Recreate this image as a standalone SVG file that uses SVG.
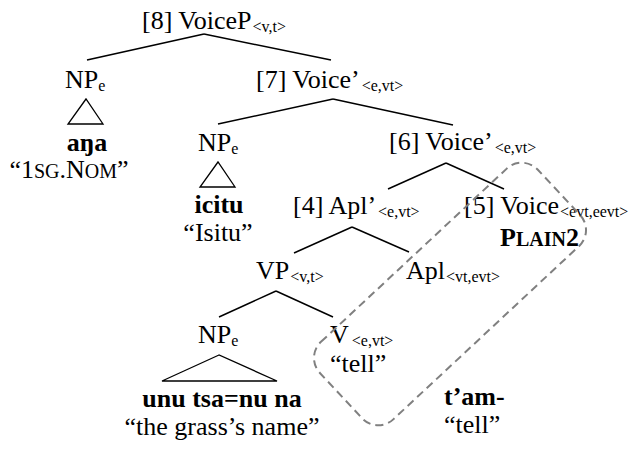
<svg xmlns="http://www.w3.org/2000/svg" width="636" height="450" viewBox="0 0 636 450">
<style>
text{font-family:"Liberation Serif","Times New Roman",serif;font-size:26px;fill:#000}
.b{font-weight:bold}
.s{font-size:16px}
.sc{font-size:20px}
.e{stroke:#000;stroke-width:1.5;fill:none}
.tri{stroke:#000;stroke-width:1.3;fill:none}
</style>
<rect width="636" height="450" fill="#fff"/>
<g id="connectors">
<line class="e" x1="204" y1="34" x2="87" y2="60"/>
<line class="e" x1="204" y1="34" x2="331" y2="60"/>
<line class="e" x1="333" y1="99" x2="218" y2="124"/>
<line class="e" x1="333" y1="99" x2="453" y2="125"/>
<line class="e" x1="446" y1="163" x2="388" y2="189"/>
<line class="e" x1="446" y1="163" x2="504" y2="189"/>
<line class="e" x1="352" y1="227" x2="294" y2="253"/>
<line class="e" x1="352" y1="227" x2="409" y2="252"/>
<line class="e" x1="276" y1="291" x2="219" y2="317"/>
<line class="e" x1="276" y1="291" x2="333" y2="317"/>
</g>
<g id="n8"><text x="142" y="29">[8] VoiceP<tspan class="s" dx="1" dy="3">&lt;v,t&gt;</tspan></text></g>
<g id="np1">
<text x="65" y="88">NP<tspan class="s" dy="3">e</tspan></text>
<polygon class="tri" points="86,99 68,124 103,124"/>
<text class="b" x="87" y="151" text-anchor="middle">aŋa</text>
<text x="69" y="178" text-anchor="middle">“1<tspan class="sc">SG</tspan>.N<tspan class="sc">OM</tspan>”</text>
</g>
<g id="n7"><text x="256" y="88">[7] Voice’<tspan class="s" dx="2" dy="3">&lt;e,vt&gt;</tspan></text></g>
<g id="np2">
<text x="198" y="151">NP<tspan class="s" dy="3">e</tspan></text>
<polygon class="tri" points="218,162 200,187 235,187"/>
<text class="b" x="219" y="213" text-anchor="middle">icitu</text>
<text x="218" y="241" text-anchor="middle">“Isitu”</text>
</g>
<g id="n6"><text x="389" y="150">[6] Voice’<tspan class="s" dx="2" dy="3">&lt;e,vt&gt;</tspan></text></g>
<g id="n4"><text x="293" y="214">[4] Apl’<tspan class="s" dx="2" dy="3">&lt;e,vt&gt;</tspan></text></g>
<g id="n5">
<text x="464" y="214">[5] Voice<tspan class="s" dx="1" dy="3">&lt;evt,eevt&gt;</tspan></text>
<text class="b" x="500" y="246">P<tspan class="sc">LAIN</tspan>2</text>
</g>
<g id="vp"><text x="256" y="279">VP<tspan class="s" dx="1" dy="3">&lt;v,t&gt;</tspan></text></g>
<g id="apl"><text x="406" y="279">Apl<tspan class="s" dx="1" dy="3">&lt;vt,evt&gt;</tspan></text></g>
<g id="np3">
<text x="198" y="343">NP<tspan class="s" dy="3">e</tspan></text>
<polygon class="tri" points="219,355 162,381 277,381"/>
<text class="b" x="222" y="407" text-anchor="middle">unu tsa=nu na</text>
<text x="222" y="435" text-anchor="middle">“the grass’s name”</text>
</g>
<g id="v">
<text x="330" y="343">V<tspan class="s" dx="3" dy="3">&lt;e,vt&gt;</tspan></text>
<text x="330" y="372">“tell”</text>
</g>
<g id="tam">
<text class="b" x="444" y="405">t’am-</text>
<text x="444" y="433">“tell”</text>
</g>
<g id="region">
<rect x="301" y="241" width="298" height="106" rx="22" transform="rotate(-43 450 294)" fill="none" stroke="#808080" stroke-width="2" stroke-dasharray="8,5"/>
</g>
</svg>
